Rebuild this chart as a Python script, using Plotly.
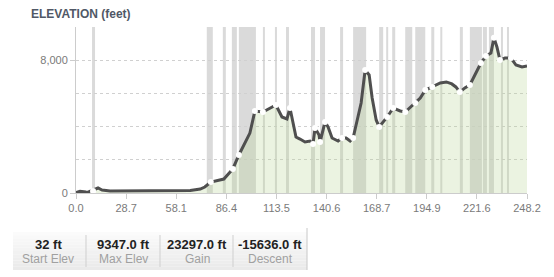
import plotly.graph_objects as go

# ---- data (x in track-point units: one axis tick every 10 units) ----
pos = [0, 0.8, 2.0, 2.4, 4.4, 5.2, 6.8, 10.8, 14.8, 18.8, 22.8, 24.8, 25.7, 26.9, 29.5,
       31.3, 32.5, 34.7, 35.7, 37.3, 38.7, 39.9, 41.1, 42.1, 42.7, 43.9, 44.7, 45.7,
       46.7, 47.3, 47.7, 48.5, 48.7, 49.7, 50.3, 51.1, 52.3, 53.1, 53.9, 54.7, 55.3,
       56.1, 56.9, 57.7, 58.5, 59.1, 59.9, 60.5, 61.3, 62.1, 63.3, 64.7, 65.7, 66.7,
       67.7, 68.7, 69.7, 71.1, 72.7, 73.9, 75.0, 75.8, 76.6, 77.6, 78.6, 79.8, 80.8,
       81.8, 82.8, 83.4, 84.0, 84.6, 85.6, 86.8, 87.8, 89.0, 90.0]
elev = [32, 100, 60, 50, 300, 180, 120, 120, 110, 150, 150, 240, 360, 660, 840,
        1450, 2290, 3610, 4940, 4880, 5120, 5300, 4580, 4460, 5120, 3370, 3250, 3070,
        3130, 2950, 3920, 3490, 3070, 4280, 3980, 3310, 3130, 3310, 3310, 3130, 3310,
        4400, 5420, 7410, 7110, 5720, 4400, 3980, 4280, 4580, 5120, 4940, 4880, 5180,
        5420, 5720, 6200, 6390, 6630, 6690, 6570, 6390, 6080, 6330, 6510, 7230, 7830,
        8250, 8430, 9347, 8800, 8010, 8130, 8130, 7710, 7590, 7650]

marker_pos = [3.4, 26.9, 31.3, 32.5, 35.7, 37.3, 39.9, 42.7, 47.3, 47.7, 48.7, 49.7,
              53.1, 55.3, 57.7, 60.5, 62.1, 63.3, 65.7, 67.7, 69.7, 71.1, 76.6, 78.6,
              80.8, 81.8, 83.4, 84.6, 86.8]
marker_elev = [120, 660, 1450, 2290, 4940, 4880, 5300, 5120, 2950, 3920, 3070, 4280,
               3310, 3310, 7410, 3980, 4580, 5120, 4880, 5420, 6200, 6390, 6080, 6510,
               7830, 8250, 9347, 8010, 8130]

band_start = [3.2, 26.1, 29.3, 31.1, 32.5, 37.3, 39.7, 41.9, 46.9, 48.7, 52.7, 55.3,
              60.5, 61.9, 63.1, 65.7, 67.7, 70.9, 72.7, 76.6, 78.6, 81.2, 82.4, 84.8, 86.0]
band_end = [3.8, 27.3, 29.9, 32.1, 35.9, 37.7, 40.1, 42.5, 47.7, 49.7, 53.3, 57.9,
            61.3, 62.3, 63.7, 67.1, 69.7, 71.5, 73.1, 77.2, 81.0, 82.0, 83.4, 85.2, 86.4]

tick_pos = [0, 10, 20, 30, 40, 50, 60, 70, 80, 90]
tick_text = ["0.0", "28.7", "58.1", "86.4", "113.5", "140.6", "168.7", "194.9", "221.6", "248.2"]

stat_values = ["32 ft", "9347.0 ft", "23297.0 ft", "-15636.0 ft"]
stat_labels = ["Start Elev", "Max Elev", "Gain", "Descent"]

# ---- layout helpers (pixel -> paper) ----
W, H = 554, 277
L, R, T, B = 76, 527, 27, 193
def px(x):
    return (x - L) / (R - L)
def py(y):
    return (B - y) / (B - T)

FONT = "Liberation Sans, Arial, sans-serif"

fig = go.Figure()
fig.add_trace(go.Scatter(
    x=pos, y=elev, mode="lines",
    line=dict(color="#4f4f4f", width=3),
    fill="tozeroy", fillcolor="rgba(184,212,148,0.28)",
    hoverinfo="skip", showlegend=False))
fig.add_trace(go.Scatter(
    x=marker_pos, y=marker_elev, mode="markers",
    marker=dict(color="white", size=6, line=dict(width=0)),
    hoverinfo="skip", showlegend=False))

shapes = []
for s, e in zip(band_start, band_end):
    shapes.append(dict(type="rect", xref="x", yref="paper", x0=s, x1=e, y0=0, y1=1,
                       fillcolor="#dadada", line=dict(width=0), layer="below"))

# stats box with gradient background
bx0, bx1, by0, by1 = 13, 307, 232, 270
n = 12
for i in range(n):
    ya = by0 + (by1 - by0) * i / n
    yb = by0 + (by1 - by0) * (i + 1) / n
    c = int(251 - (251 - 234) * i / (n - 1))
    shapes.append(dict(type="rect", xref="paper", yref="paper",
                       x0=px(bx0), x1=px(bx1), y0=py(yb), y1=py(ya),
                       fillcolor=f"rgb({c},{c},{c})", line=dict(width=0), layer="above"))
for sx in [86, 160, 233]:
    shapes.append(dict(type="line", xref="paper", yref="paper", x0=px(sx), x1=px(sx),
                       y0=py(267), y1=py(235), line=dict(color="#cfcfcf", width=1)))
shapes.append(dict(type="line", xref="paper", yref="paper", x0=px(307), x1=px(307),
                   y0=py(270), y1=py(228), line=dict(color="#c8c8c8", width=1)))

annotations = []
centers = [48, 123, 197, 270]
for cx, v, lab in zip(centers, stat_values, stat_labels):
    annotations.append(dict(x=px(cx), y=py(245), xref="paper", yref="paper",
                            text=f"<b>{v}</b>", showarrow=False, xanchor="center", yanchor="middle",
                            font=dict(family=FONT, size=13, color="#222222")))
    annotations.append(dict(x=px(cx), y=py(259), xref="paper", yref="paper",
                            text=lab, showarrow=False, xanchor="center", yanchor="middle",
                            font=dict(family=FONT, size=12, color="#a0a0a0")))

fig.update_layout(
    width=W, height=H,
    margin=dict(l=L, r=W - R, t=T, b=H - B, pad=0),
    paper_bgcolor="white", plot_bgcolor="white",
    title=dict(text="<b>ELEVATION (feet)</b>", x=31 / W, xanchor="left",
               y=1 - 14 / H, yanchor="middle", xref="container", yref="container",
               font=dict(family=FONT, size=12, color="#505866")),
    shapes=shapes, annotations=annotations,
    font=dict(family=FONT),
)
fig.update_xaxes(range=[0, 90], tickvals=tick_pos, ticktext=tick_text,
                 showgrid=False, zeroline=False, showline=True, linecolor="#cccccc", linewidth=1,
                 ticks="outside", ticklen=5, tickcolor="#cccccc",
                 tickfont=dict(family=FONT, size=11, color="#7a7a7a"), fixedrange=True)
fig.update_yaxes(range=[0, 10000], tickvals=[0, 8000], ticktext=["0", "8,000"],
                 showgrid=True, gridcolor="#d0d0d0", griddash="dot", gridwidth=1,
                 minor=dict(dtick=2000, tick0=0, showgrid=True, gridcolor="#d0d0d0",
                            griddash="dot", gridwidth=1, ticks=""),
                 zeroline=False, showline=True, linecolor="#cccccc", linewidth=1,
                 ticks="outside", ticklen=5, tickcolor="#cccccc",
                 tickfont=dict(family=FONT, size=11, color="#7a7a7a"), fixedrange=True)

fig.write_html("out.html")
